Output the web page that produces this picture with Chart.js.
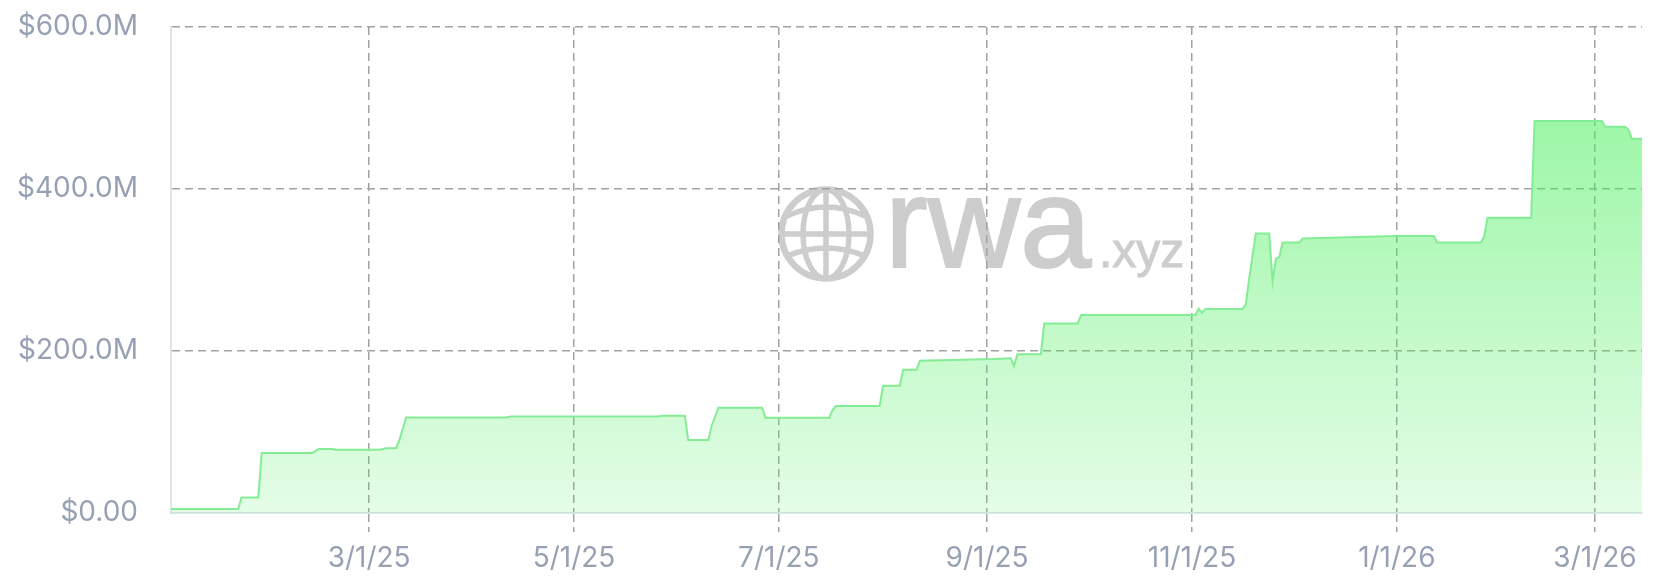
<!DOCTYPE html>
<html>
<head>
<meta charset="utf-8">
<script src="https://cdn.jsdelivr.net/npm/chart.js@4/dist/chart.umd.min.js"></script>
<style>
    html, body { margin: 0; padding: 0; background: #ffffff; }
    #wrap { width: 1668px; height: 588px; position: relative; }
</style>
</head>
<body>
<div id="wrap"><canvas id="myChart"></canvas></div>
<script>
// daily total value (USD millions) at each change of level
const dates = [
    "2025-01-01", "2025-01-21", "2025-01-22", "2025-01-27", "2025-01-28", "2025-02-12",
    "2025-02-14", "2025-02-18", "2025-02-19", "2025-03-04", "2025-03-06", "2025-03-09",
    "2025-03-10", "2025-03-12", "2025-04-11", "2025-04-12", "2025-05-26", "2025-05-27",
    "2025-06-03", "2025-06-04", "2025-06-10", "2025-06-11", "2025-06-13", "2025-06-26",
    "2025-06-27", "2025-07-16", "2025-07-17", "2025-07-18", "2025-07-31", "2025-08-01",
    "2025-08-06", "2025-08-07", "2025-08-11", "2025-08-12", "2025-09-03", "2025-09-08",
    "2025-09-09", "2025-09-10", "2025-09-17", "2025-09-18", "2025-09-28", "2025-09-29",
    "2025-11-02", "2025-11-03", "2025-11-04", "2025-11-05", "2025-11-16", "2025-11-17",
    "2025-11-18", "2025-11-20", "2025-11-24", "2025-11-25", "2025-11-26", "2025-11-27",
    "2025-11-28", "2025-12-03", "2025-12-04", "2026-01-01", "2026-01-12", "2026-01-13",
    "2026-01-26", "2026-01-27", "2026-01-28", "2026-02-10", "2026-02-11", "2026-03-03",
    "2026-03-04", "2026-03-10", "2026-03-11", "2026-03-12", "2026-03-15"
];
const values = [
    5, 5, 19, 19, 74, 74,
    79, 79, 78, 78, 80, 80,
    90, 118, 118, 119, 119, 120,
    120, 90, 90, 108, 130, 130,
    117.5, 117.5, 127, 132, 132, 157,
    157, 177, 177, 188, 190, 191,
    181.5, 196, 196, 234, 234, 244.4,
    244.5, 252, 247, 252, 252, 257,
    288, 345, 345, 285.6, 314, 316,
    334, 334, 339, 342, 342, 334,
    334, 341, 364.6, 364.6, 484, 484,
    477, 477, 473, 462, 462
];

const xTickDates = ["2025-03-01", "2025-05-01", "2025-07-01", "2025-09-01", "2025-11-01", "2026-01-01", "2026-03-01"];
const xTickLabels = ["3/1/25", "5/1/25", "7/1/25", "9/1/25", "11/1/25", "1/1/26", "3/1/26"];
const yTickLabels = ["$0.00", "$200.0M", "$400.0M", "$600.0M"];

const points = dates.map((d, i) => ({ x: Date.parse(d), y: values[i] }));

const gridGray = "#a2a2a2";
const labelColor = "#97a1b4";
const labelFont = { family: "Inter", size: 28 };

// rwa.xyz mark behind the grid
const watermark = {
    id: "watermark",
    beforeDraw(chart) {
        const { ctx, chartArea } = chart;
        const cx = chartArea.left + 655;
        const cy = chartArea.top + 207;
        const r = 44.5;
        ctx.save();
        ctx.strokeStyle = "#cdcdcd";
        ctx.fillStyle = "#cdcdcd";
        ctx.lineWidth = 6.5;
        ctx.beginPath();
        ctx.arc(cx, cy, r, 0, Math.PI * 2);
        ctx.stroke();
        ctx.lineWidth = 5.5;
        ctx.beginPath();
        ctx.ellipse(cx, cy, 23, r, 0, 0, Math.PI * 2);
        ctx.moveTo(cx, cy - r);
        ctx.lineTo(cx, cy + r);
        ctx.moveTo(cx - r, cy);
        ctx.lineTo(cx + r, cy);
        ctx.moveTo(cx - 39, cy - 18);
        ctx.quadraticCurveTo(cx, cy - 36, cx + 39, cy - 18);
        ctx.moveTo(cx - 39, cy + 22);
        ctx.quadraticCurveTo(cx, cy + 6, cx + 39, cy + 22);
        ctx.stroke();

        ctx.textBaseline = "alphabetic";
        ctx.textAlign = "left";
        ctx.lineWidth = 2;
        ctx.font = "128px 'Liberation Sans', Arial, sans-serif";
        ctx.fillText("rwa", cx + 59, cy + 33);
        ctx.strokeText("rwa", cx + 59, cy + 33);
        ctx.lineWidth = 1;
        ctx.font = "48px 'Liberation Sans', Arial, sans-serif";
        ctx.fillText(".xyz", cx + 273, cy + 33);
        ctx.strokeText(".xyz", cx + 273, cy + 33);
        ctx.restore();
    }
};

function fillGradient(context) {
    const chart = context.chart;
    const area = chart.chartArea;
    if (!area) return "rgba(74,240,93,0.3)";
    const g = chart.ctx.createLinearGradient(0, area.top, 0, area.bottom);
    g.addColorStop(0, "rgba(74,240,93,0.64)");
    g.addColorStop(1, "rgba(74,240,93,0.15)");
    return g;
}

const ctx = document.getElementById("myChart").getContext("2d");

new Chart(ctx, {
    type: "line",
    data: {
        datasets: [
            {
                label: "Total value",
                data: points,
                borderColor: "#84ec95",
                borderWidth: 2,
                backgroundColor: fillGradient,
                fill: "origin",
                pointRadius: 0,
                tension: 0,
            },
        ],
    },
    options: {
        responsive: true,
        maintainAspectRatio: false,
        animation: false,
        layout: { padding: { top: 27, right: 26, left: 0, bottom: 0 } },
        plugins: {
            legend: { display: false },
            tooltip: { enabled: false },
        },
        scales: {
            x: {
                type: "linear",
                min: Date.parse(dates[0]),
                max: Date.parse(dates[dates.length - 1]),
                afterBuildTicks: (scale) => {
                    scale.ticks = xTickDates.map((d) => ({ value: Date.parse(d) }));
                },
                afterFit: (scale) => {
                    scale.height = 75;
                    scale.paddingLeft = 0;
                    scale.paddingRight = 0;
                },
                grid: {
                    color: gridGray,
                    lineWidth: 1.5,
                    drawTicks: true,
                    tickLength: 19,
                    tickBorderDash: [8, 5],
                },
                border: { display: true, color: "#dde4ec", width: 2, dash: [8, 5] },
                ticks: {
                    autoSkip: false,
                    maxRotation: 0,
                    padding: 10,
                    color: labelColor,
                    font: labelFont,
                    callback: (value, index) => xTickLabels[index],
                },
            },
            y: {
                min: 0,
                max: 600,
                afterBuildTicks: (scale) => {
                    scale.ticks = yTickLabels.map((t, i) => ({ value: i * 200 }));
                },
                afterFit: (scale) => {
                    scale.width = 171;
                    scale.paddingTop = 0;
                    scale.paddingBottom = 0;
                },
                grid: {
                    color: (c) => (c.tick && c.tick.value === 0 ? "rgba(0,0,0,0)" : gridGray),
                    lineWidth: 1.5,
                    drawTicks: false,
                },
                border: { display: true, color: "#dde4ec", width: 2, dash: [8, 5] },
                ticks: {
                    padding: 33,
                    color: labelColor,
                    font: labelFont,
                    callback: (value, index) => yTickLabels[index],
                },
            },
        },
    },
    plugins: [watermark],
});
</script>
</body>
</html>
